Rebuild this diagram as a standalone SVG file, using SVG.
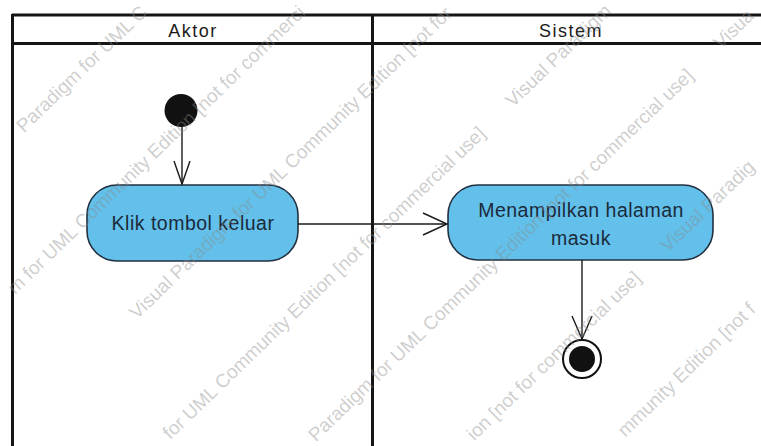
<svg xmlns="http://www.w3.org/2000/svg" width="761" height="446" viewBox="0 0 761 446">
<style>
.lane{stroke:#151515;stroke-width:3;fill:none}
.hdr{font-family:"Liberation Sans",Arial,sans-serif;font-size:18px;letter-spacing:1.5px;fill:#1a1a1a;text-anchor:middle}
.act{fill:#62c0ea;stroke:#223040;stroke-width:1.6}
.lbl{font-family:"Liberation Sans",Arial,sans-serif;font-size:19.5px;letter-spacing:0.5px;fill:#1c2a3a;text-anchor:middle}
.edge{stroke:#1a1a1a;stroke-width:1.4;fill:none}
.wm{font-family:"Liberation Sans",Arial,sans-serif;font-size:19px;fill:#8a8a8a;fill-opacity:0.42}
</style>
<rect width="761" height="446" fill="#ffffff"/>
<g id="lanes">
<line class="lane" x1="12" y1="15" x2="761" y2="15"/>
<line class="lane" x1="12" y1="43.5" x2="761" y2="43.5"/>
<line class="lane" x1="12.5" y1="14" x2="12.5" y2="446"/>
<line class="lane" x1="372.5" y1="14" x2="372.5" y2="446"/>
<text class="hdr" x="193" y="37">Aktor</text>
<text class="hdr" x="571" y="37">Sistem</text>
</g>
<g id="start">
<circle cx="181" cy="110.5" r="16.5" fill="#111"/>
</g>
<g id="klik">
<rect class="act" x="87" y="185" width="211" height="76" rx="30" ry="30"/>
<text class="lbl" x="193" y="230">Klik tombol keluar</text>
</g>
<g id="menampilkan">
<rect class="act" x="448" y="185" width="265" height="75" rx="30" ry="30"/>
<text class="lbl" x="581" y="217">Menampilkan halaman</text>
<text class="lbl" x="581" y="245">masuk</text>
</g>
<g id="final">
<circle cx="582" cy="359" r="19" fill="#fff" stroke="#111" stroke-width="2"/>
<circle cx="582" cy="359" r="13" fill="#111"/>
</g>
<g id="connectors">
<line class="edge" x1="182" y1="127" x2="182" y2="184"/>
<polyline class="edge" points="174,161 182,184 190,161"/>
<line class="edge" x1="298" y1="224" x2="447" y2="224"/>
<polyline class="edge" points="423,213 447,224 423,235"/>
<line class="edge" x1="582" y1="260" x2="582" y2="339"/>
<polyline class="edge" points="572,316 582,339 592,316"/>
</g>
<g id="watermark">
<text class="wm" transform="translate(-17,173) rotate(-44)" x="57">Paradigm for UML C</text>
<text class="wm" transform="translate(-73,380) rotate(-44)" x="122.5">m for UML Community Edition [not for commerci</text>
<text class="wm" transform="translate(137,320) rotate(-44)">Visual Paradigm for UML Community Edition [not for</text>
<text class="wm" transform="translate(67,540) rotate(-44)" x="143.6">for UML Community Edition [not for commercial use]</text>
<text class="wm" transform="translate(513,108) rotate(-44)">Visual Paradigm</text>
<text class="wm" transform="translate(275,482) rotate(-44)" x="57">Paradigm for UML Community Edition [not for commercial use]</text>
<text class="wm" transform="translate(721,50) rotate(-44)">Visua</text>
<text class="wm" transform="translate(222,685) rotate(-44)" x="350.5">ion [not for commercial use]</text>
<text class="wm" transform="translate(668,253) rotate(-44)">Visual Paradig</text>
<text class="wm" transform="translate(452,605) rotate(-44)" x="240.7">mmunity Edition [not f</text>
</g>
</svg>
